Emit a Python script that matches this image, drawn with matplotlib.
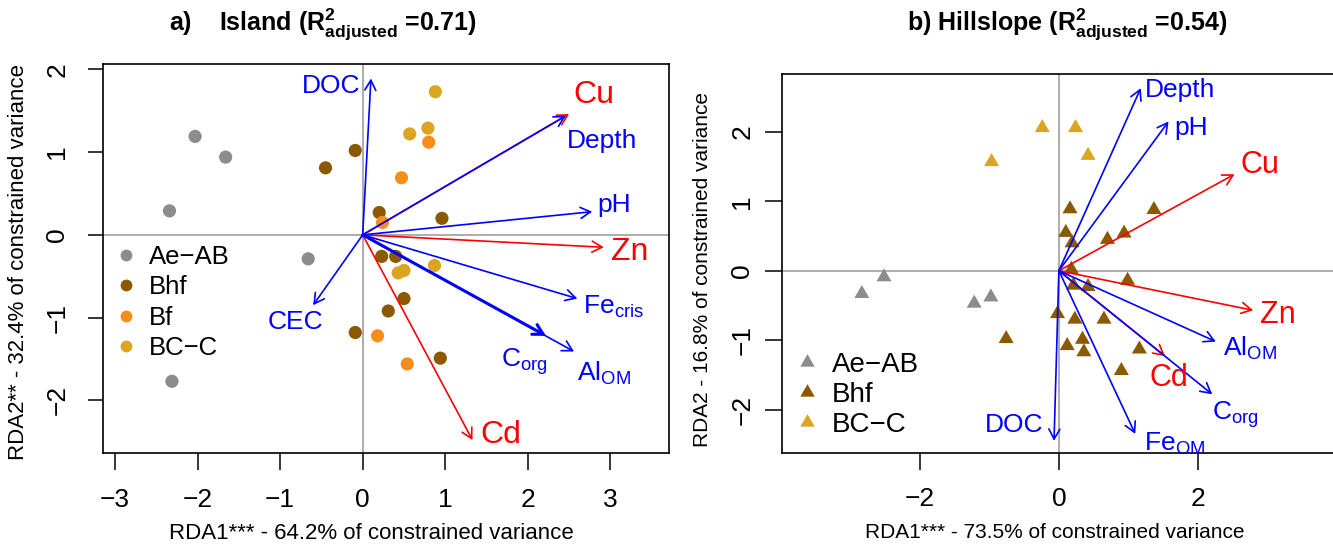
import numpy as np
import matplotlib.pyplot as plt
from matplotlib.lines import Line2D

plt.rcParams['font.family'] = ['Liberation Sans', 'DejaVu Sans']
plt.rcParams['mathtext.fontset'] = 'custom'
plt.rcParams['mathtext.rm'] = 'Liberation Sans'
plt.rcParams['mathtext.it'] = 'Liberation Sans:italic'
plt.rcParams['mathtext.bf'] = 'Liberation Sans:bold'
plt.rcParams['axes.unicode_minus'] = True

# ── a) Island: site scores ─────────────────────────────────────────────────────
isl_groups = ['Ae\u2212AB', 'Bhf', 'Bf', 'BC\u2212C']
isl_x = [
    [-2.03, -1.66, -2.34, -0.66, -2.31],
    [-0.09, -0.45, 0.20, 0.96, 0.23, 0.40, 0.50, 0.31, -0.09, 0.94],
    [0.80, 0.47, 0.24, 0.18, 0.54],
    [0.88, 0.57, 0.79, 0.87, 0.43, 0.50],
]
isl_y = [
    [1.19, 0.94, 0.29, -0.29, -1.77],
    [1.02, 0.81, 0.27, 0.20, -0.26, -0.26, -0.77, -0.92, -1.18, -1.49],
    [1.12, 0.69, 0.15, -1.22, -1.56],
    [1.73, 1.22, 1.29, -0.37, -0.46, -0.43],
]

# a) Island: environmental vectors (tips) and label anchors
isl_vars = ['DOC', 'Cu', 'Depth', 'pH', 'Zn', r'Fe$_{\mathrm{cris}}$',
            r'C$_{\mathrm{org}}$', r'Al$_{\mathrm{OM}}$', 'Cd', 'CEC']
isl_metal = [False, True, False, False, True, False, False, False, True, False]
isl_vx = [0.10, 2.50, 2.46, 2.78, 2.92, 2.60, 2.22, 2.56, 1.33, -0.60]
isl_vy = [1.89, 1.46, 1.44, 0.28, -0.15, -0.77, -1.22, -1.41, -2.48, -0.85]
isl_lx = [-0.38, 2.80, 2.90, 3.04, 3.23, 3.04, 1.96, 2.92, 1.67, -0.81]
isl_ly = [1.80, 1.69, 1.13, 0.36, -0.21, -0.87, -1.53, -1.68, -2.42, -1.05]

# ── b) Hillslope: site scores ──────────────────────────────────────────────────
hil_groups = ['Ae\u2212AB', 'Bhf', 'BC\u2212C']
hil_x = [
    [-2.52, -2.84, -1.22, -0.98],
    [0.16, 1.37, 0.10, 0.19, 0.70, 0.94, 0.18, 0.99, 0.21, 0.42,
     -0.02, 0.23, 0.65, -0.76, 0.34, 0.12, 0.36, 1.16, 0.90],
    [-0.24, 0.24, -0.97, 0.42],
]
hil_y = [
    [-0.09, -0.33, -0.47, -0.38],
    [0.89, 0.88, 0.55, 0.40, 0.45, 0.54, 0.02, -0.14, -0.21, -0.23,
     -0.62, -0.70, -0.70, -0.98, -0.99, -1.08, -1.17, -1.13, -1.44],
    [2.06, 2.06, 1.57, 1.66],
]

# b) Hillslope: environmental vectors
hil_vars = ['Depth', 'pH', 'Cu', 'Zn', r'Al$_{\mathrm{OM}}$', 'Cd',
            r'C$_{\mathrm{org}}$', r'Fe$_{\mathrm{OM}}$', 'DOC']
hil_metal = [False, False, True, True, False, True, False, False, False]
hil_vx = [1.18, 1.58, 2.53, 2.80, 2.26, 1.53, 2.21, 1.10, -0.07]
hil_vy = [2.63, 2.15, 1.39, -0.57, -1.02, -1.23, -1.78, -2.35, -2.45]
hil_lx = [1.75, 1.90, 2.89, 3.15, 2.75, 1.59, 2.55, 1.67, -0.65]
hil_ly = [2.60, 2.06, 1.52, -0.64, -1.12, -1.55, -2.08, -2.49, -2.22]

# ── style ─────────────────────────────────────────────────────────────────────
C_GREY = '#8C8C8C'
C_BROWN = '#8B5A00'
C_ORANGE = '#F98D1C'
C_GOLD = '#DAA520'
BLUE = '#0000FF'
RED = '#FF0000'
ZERO = '#A6A6A6'
isl_colors = [C_GREY, C_BROWN, C_ORANGE, C_GOLD]
hil_colors = [C_GREY, C_BROWN, C_GOLD]
TRI = [(0, 1), (-0.866, -0.5), (0.866, -0.5)]   # R-style pch 17 triangle

W, H = 1333, 546
fig = plt.figure(figsize=(W / 100, H / 100), dpi=100)


def px_axes(x0, x1, y0, y1):
    return fig.add_axes([x0 / W, 1 - y1 / H, (x1 - x0) / W, (y1 - y0) / H])


def draw_vectors(ax, vx, vy, lx, ly, names, metal, fs_blue, fs_red, thick=None):
    order = sorted(range(len(vx)), key=lambda i: not metal[i])  # red under blue
    for i in order:
        col = RED if metal[i] else BLUE
        lw = 2.2 if (thick is not None and i == thick) else 1.2
        ax.annotate('', xy=(vx[i], vy[i]), xytext=(0, 0),
                    arrowprops=dict(arrowstyle='->,head_length=0.6,head_width=0.33',
                                    color=col, lw=lw, shrinkA=0, shrinkB=0,
                                    mutation_scale=12))
    for i in range(len(vx)):
        col = RED if metal[i] else BLUE
        ax.text(lx[i], ly[i], names[i], color=col,
                fontsize=fs_red if metal[i] else fs_blue,
                ha='center', va='center', clip_on=False)


# ── a) Island ────────────────────────────────────────────────────────────────
ax1 = px_axes(102.6, 669, 64, 453.3)
ax1.set_xlim(-3.15, 3.71)
ax1.set_ylim(-2.64, 2.065)
ax1.axhline(0, color=ZERO, lw=1.3, zorder=1)
ax1.axvline(0, color=ZERO, lw=1.3, zorder=1)
for xs, ys, c in zip(isl_x, isl_y, isl_colors):
    ax1.scatter(xs, ys, s=90, color=c, edgecolors='none', zorder=3)
draw_vectors(ax1, isl_vx, isl_vy, isl_lx, isl_ly, isl_vars, isl_metal, 19, 23, thick=6)

ax1.set_xticks([-3, -2, -1, 0, 1, 2, 3])
ax1.set_yticks([-2, -1, 0, 1, 2])
ax1.tick_params(axis='x', length=12, width=1.1, labelsize=19, pad=13)
ax1.tick_params(axis='y', length=11, width=1.1, labelsize=19, pad=13, labelrotation=90)
for t in ax1.get_yticklabels():
    t.set_va('center')
ax1.set_xlabel('RDA1*** - 64.2% of constrained variance', fontsize=16, va='center')
ax1.xaxis.set_label_coords(0.474, -0.205)
ax1.set_ylabel('RDA2** - 32.4% of constrained variance', fontsize=16, va='center')
ax1.yaxis.set_label_coords(-0.148, 0.491)
for sp in ax1.spines.values():
    sp.set_linewidth(1.2)

h1 = [Line2D([], [], ls='none', marker='o', markersize=8.5, color=c, markeredgecolor='none')
      for c in isl_colors]
ax1.legend(h1, isl_groups, loc='upper left', bbox_to_anchor=(0.012, 0.545),
           borderaxespad=0, borderpad=0.15, fontsize=18.5, handlelength=1.0,
           handletextpad=0.4, labelspacing=0.25, frameon=True,
           facecolor='white', edgecolor='none', framealpha=1, fancybox=False)

# ── b) Hillslope ─────────────────────────────────────────────────────────────
ax2 = px_axes(782, 1333, 74.3, 453.3)
ax2.set_xlim(-3.99, 3.95)
ax2.set_ylim(-2.63, 2.83)
ax2.axhline(0, color=ZERO, lw=1.3, zorder=1)
ax2.axvline(0, color=ZERO, lw=1.3, zorder=1)
for xs, ys, c in zip(hil_x, hil_y, hil_colors):
    ax2.scatter(xs, ys, s=12.5 ** 2, marker=TRI, color=c, edgecolors='none', zorder=3)
draw_vectors(ax2, hil_vx, hil_vy, hil_lx, hil_ly, hil_vars, hil_metal, 19, 22)

ax2.set_xticks([-2, 0, 2])
ax2.set_yticks([-2, -1, 0, 1, 2])
ax2.tick_params(axis='x', length=12, width=1.1, labelsize=19, pad=12)
ax2.tick_params(axis='y', length=12, width=1.1, labelsize=19, pad=8, labelrotation=90)
for t in ax2.get_yticklabels():
    t.set_va('center')
ax2.set_xlabel('RDA1*** - 73.5% of constrained variance', fontsize=15, va='center')
ax2.xaxis.set_label_coords(0.495, -0.208)
ax2.set_ylabel('RDA2 - 16.8% of constrained variance', fontsize=15, va='center')
ax2.yaxis.set_label_coords(-0.145, 0.484)
ax2.spines['right'].set_visible(False)
for sp in ax2.spines.values():
    sp.set_linewidth(1.2)

h2 = [Line2D([], [], ls='none', marker=TRI, markersize=12, color=c, markeredgecolor='none')
      for c in hil_colors]
ax2.legend(h2, hil_groups, loc='upper left', bbox_to_anchor=(0.0145, 0.275),
           borderaxespad=0, borderpad=0.1, fontsize=20, handlelength=1.0,
           handletextpad=0.42, labelspacing=0.15, frameon=True,
           facecolor='white', edgecolor='none', framealpha=1, fancybox=False)

# ── titles ───────────────────────────────────────────────────────────────────
fig.text(323 / W, 1 - 24 / H,
         r'a)    Island (R$^{\mathbf{2}}_{\mathbf{adjusted}}$ =0.71)',
         fontsize=18, fontweight='bold', ha='center', va='center')
fig.text(1067 / W, 1 - 24 / H,
         r'b) Hillslope (R$^{\mathbf{2}}_{\mathbf{adjusted}}$ =0.54)',
         fontsize=18, fontweight='bold', ha='center', va='center')

plt.savefig('out.png', dpi=100)
